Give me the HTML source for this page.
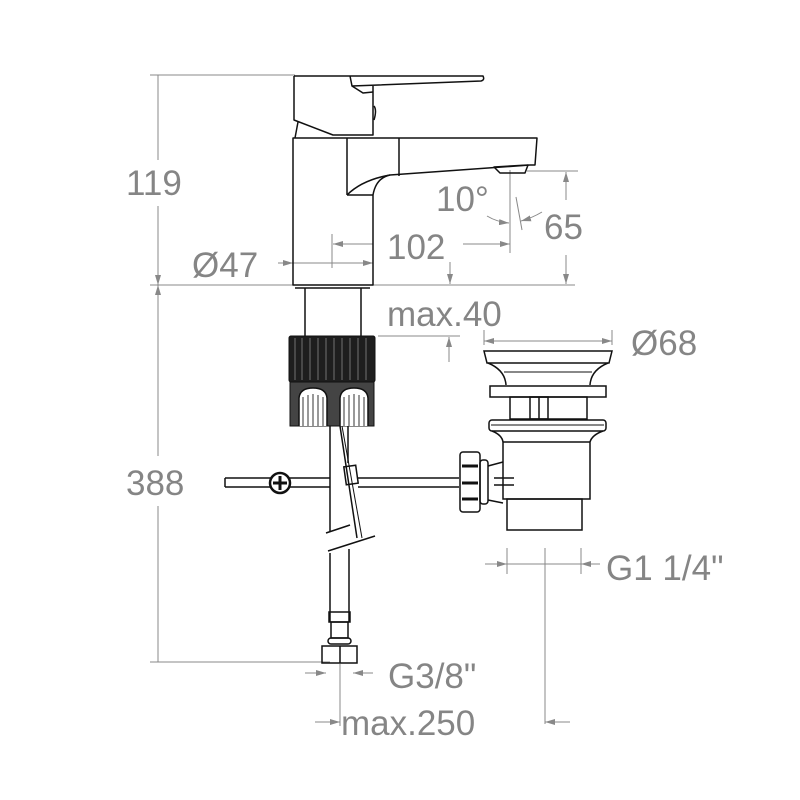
<!DOCTYPE html>
<html><head><meta charset="utf-8"><style>
html,body{margin:0;padding:0;background:#fff;width:800px;height:800px;overflow:hidden}
text{font-family:"Liberation Sans",sans-serif;fill:#858585}
</style></head><body>
<svg width="800" height="800" viewBox="0 0 800 800" xmlns="http://www.w3.org/2000/svg">
<defs>
<marker id="a" viewBox="0 0 10 6" refX="10" refY="3" markerWidth="10" markerHeight="6" orient="auto-start-reverse" markerUnits="userSpaceOnUse"><path d="M0,0 L10,3 L0,6z" fill="#888"/></marker>
</defs>
<g stroke="#888" stroke-width="1" fill="none">
<line x1="158" y1="75" x2="158" y2="160"/>
<line x1="158" y1="206" x2="158" y2="456"/>
<line x1="158" y1="506" x2="158" y2="662"/>
<line x1="150" y1="75" x2="295" y2="75"/>
<line x1="150" y1="285" x2="575" y2="285"/>
<line x1="150" y1="662" x2="330" y2="662"/>
<line x1="158" y1="272" x2="158" y2="285" marker-end="url(#a)"/>
<line x1="158" y1="298" x2="158" y2="285" marker-end="url(#a)"/>
<line x1="278" y1="263" x2="293" y2="263" marker-end="url(#a)"/>
<line x1="293" y1="263" x2="373" y2="263" marker-end="url(#a)"/>
<line x1="332" y1="234" x2="332" y2="268"/>
<line x1="373" y1="244" x2="333" y2="244" marker-end="url(#a)"/>
<line x1="463" y1="244" x2="510" y2="244" marker-end="url(#a)"/>
<line x1="510" y1="170" x2="510" y2="253"/>
<path d="M487,216 Q497,222 509,223" marker-end="url(#a)"/>
<line x1="516" y1="197" x2="522" y2="230"/>
<path d="M542,212 Q532,218 521,221" marker-end="url(#a)"/>
<line x1="527" y1="171" x2="578" y2="171"/>
<line x1="566" y1="200" x2="566" y2="172" marker-end="url(#a)"/>
<line x1="566" y1="255" x2="566" y2="284" marker-end="url(#a)"/>
<line x1="450" y1="262" x2="450" y2="284" marker-end="url(#a)"/>
<line x1="378" y1="336" x2="460" y2="336"/>
<line x1="449" y1="362" x2="449" y2="337" marker-end="url(#a)"/>
<line x1="484" y1="330" x2="484" y2="345"/>
<line x1="612" y1="330" x2="612" y2="345"/>
<line x1="484" y1="341" x2="612" y2="341" marker-start="url(#a)" marker-end="url(#a)"/>
<line x1="485" y1="564" x2="600" y2="564"/>
<line x1="485" y1="564" x2="507" y2="564" marker-end="url(#a)"/>
<line x1="600" y1="564" x2="581" y2="564" marker-end="url(#a)"/>
<line x1="507" y1="548" x2="507" y2="574"/>
<line x1="581" y1="548" x2="581" y2="574"/>
<line x1="545" y1="548" x2="545" y2="724"/>
<line x1="305" y1="673" x2="326" y2="673" marker-end="url(#a)"/>
<line x1="373" y1="673" x2="353" y2="673" marker-end="url(#a)"/>
<line x1="340" y1="664" x2="340" y2="726"/>
<line x1="315" y1="722" x2="340" y2="722" marker-end="url(#a)"/>
<line x1="570" y1="722" x2="545" y2="722" marker-end="url(#a)"/>
</g>
<g stroke="#111" stroke-width="1.5" fill="none" stroke-linejoin="round">
<path d="M294,76 L483,76 Q485,80 481,81 L352,86 L350,76"/>
<path d="M352,86 L363,93 L373,92"/>
<path d="M294,76 L294,120 L333,135 L373,135 L373,86"/>
<path d="M374,106 Q377,110 374,120"/>
<path d="M298,122 L295,138"/>
<path d="M293,138 L537,138 L535,165 L530,165 L390,175 Q376,178 373,195 L373,285 L293,285 Z"/>
<line x1="347" y1="138" x2="347" y2="195"/>
<line x1="399" y1="138" x2="399" y2="176"/>
<path d="M347,195 Q362,180 390,175"/>
<path d="M347,195 L373,195"/>
<path d="M494,167 L528,165 L525,173 L500,173 Z"/>
<line x1="295" y1="288" x2="370" y2="288"/>
<line x1="305" y1="288" x2="305" y2="336"/>
<line x1="361" y1="288" x2="361" y2="336"/>
</g>
<g stroke="#111" fill="none">
<rect x="289" y="336" width="86" height="46" fill="#1e1e1e" rx="2"/>
<rect x="290" y="382" width="84" height="44" fill="#444"/>
<path d="M299,426 L299,398 Q300,388 313,388 Q326,388 327,398 L327,426" fill="#fff" stroke-width="1.5"/>
<path d="M340,426 L340,398 Q341,388 354,388 Q367,388 368,398 L368,426" fill="#fff" stroke-width="1.5"/>
<g stroke="#333" stroke-width="1">
<line x1="303" y1="397" x2="303" y2="426"/><line x1="308" y1="395" x2="308" y2="426"/><line x1="313" y1="394" x2="313" y2="426"/><line x1="318" y1="395" x2="318" y2="426"/><line x1="323" y1="397" x2="323" y2="426"/>
<line x1="344" y1="397" x2="344" y2="426"/><line x1="349" y1="395" x2="349" y2="426"/><line x1="354" y1="394" x2="354" y2="426"/><line x1="359" y1="395" x2="359" y2="426"/><line x1="364" y1="397" x2="364" y2="426"/>
</g>
<g stroke="#888" stroke-width="0.8">
<line x1="295" y1="338" x2="295" y2="380"/><line x1="302" y1="338" x2="302" y2="380"/><line x1="310" y1="338" x2="310" y2="380"/><line x1="318" y1="338" x2="318" y2="380"/><line x1="326" y1="338" x2="326" y2="380"/><line x1="334" y1="338" x2="334" y2="380"/><line x1="342" y1="338" x2="342" y2="380"/><line x1="350" y1="338" x2="350" y2="380"/><line x1="358" y1="338" x2="358" y2="380"/><line x1="366" y1="338" x2="366" y2="380"/>
</g>
</g>
<g stroke="#111" stroke-width="1.5" fill="none">
<line x1="330" y1="426" x2="330" y2="532"/>
<line x1="348" y1="426" x2="348" y2="463"/>
<line x1="340" y1="426" x2="357" y2="538"/>
<line x1="342" y1="426" x2="362" y2="538" stroke-width="1"/>
<rect x="345" y="466" width="12" height="18" transform="rotate(-8 351 475)"/>
<line x1="326" y1="533" x2="350" y2="525"/>
<line x1="328" y1="551" x2="375" y2="536"/>
<line x1="330" y1="553" x2="330" y2="622"/>
<line x1="349" y1="549" x2="349" y2="622"/>
<line x1="225" y1="478" x2="330" y2="478"/>
<line x1="225" y1="487" x2="330" y2="487"/>
<line x1="225" y1="478" x2="225" y2="487"/>
<line x1="358" y1="478" x2="459" y2="478"/>
<line x1="358" y1="487" x2="459" y2="487"/>
<circle cx="280" cy="483" r="10" fill="#fff" stroke-width="2.5"/>
<path d="M280,476 V490 M273,483 H287" stroke-width="3"/>
<rect x="329" y="612" width="21" height="10"/>
<rect x="331" y="622" width="17" height="16"/>
<rect x="328" y="638" width="23" height="6" rx="3"/>
<rect x="322" y="646" width="35" height="17"/>
<line x1="340" y1="646" x2="340" y2="663"/>
<rect x="460" y="452" width="20" height="60" rx="3"/>
<line x1="462" y1="466" x2="478" y2="466" stroke-width="3"/>
<line x1="462" y1="483" x2="478" y2="483" stroke-width="3"/>
<line x1="462" y1="499" x2="478" y2="499" stroke-width="3"/>
<rect x="480" y="460" width="8" height="44" rx="3"/>
<path d="M488,466 L503,462 M488,500 L503,503"/>
<line x1="494" y1="478" x2="514" y2="478"/>
<line x1="494" y1="485" x2="514" y2="485"/>
<path d="M484,351 L612,351 L609,363 L487,363 Z"/>
<path d="M488,363 Q505,370 506,385 M608,363 Q591,370 590,385"/>
<line x1="504" y1="372" x2="592" y2="372" stroke-width="1"/>
<rect x="490" y="386" width="116" height="11"/>
<rect x="510" y="397" width="77" height="22"/>
<rect x="530" y="397" width="18" height="22"/>
<line x1="539" y1="397" x2="539" y2="419"/>
<rect x="489" y="420" width="117" height="11" rx="3"/>
<line x1="491" y1="425" x2="604" y2="425" stroke-width="1"/>
<path d="M492,431 Q502,435 503,442 L503,499 L590,499 L590,442 Q592,435 603,431"/>
<line x1="503" y1="442" x2="590" y2="442"/>
<rect x="507" y="499" width="75" height="31"/>
</g>
<g font-size="35">
<text x="126" y="195">119</text>
<text x="126" y="495">388</text>
<text x="192" y="277">Ø47</text>
<text x="387" y="259">102</text>
<text x="436" y="211">10°</text>
<text x="544" y="239">65</text>
<text x="387" y="326">max.40</text>
<text x="631" y="355">Ø68</text>
<text x="606" y="580">G1 1/4"</text>
<text x="388" y="688">G3/8"</text>
<text x="341" y="735">max.250</text>
</g>
</svg>
</body></html>
